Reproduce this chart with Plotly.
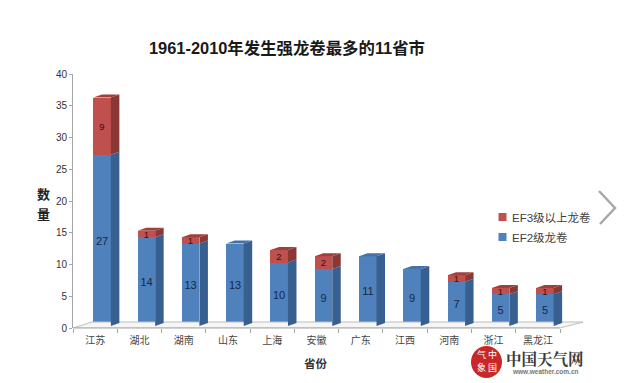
import plotly.graph_objects as go

provinces = ["江苏", "湖北", "湖南", "山东", "上海", "安徽", "广东", "江西", "河南", "浙江", "黑龙江"]
ef2 = [27, 14, 13, 13, 10, 9, 11, 9, 7, 5, 5]
ef3 = [9, 1, 1, 0, 2, 2, 0, 0, 1, 1, 1]
y_ticks = [0, 5, 10, 15, 20, 25, 30, 35, 40]

PX_X = 44.3
PX_Y = 6.35
OFFSET = 7.0 / PX_X
WIDTH = 17.5 / PX_X
DX = 8.5 / PX_X
DY = 3.0 / PX_Y
LIFT = 0.3
FONT = "Liberation Sans, Noto Sans CJK SC, sans-serif"
CJK = "Noto Sans CJK SC, sans-serif"
PAGE = 8  # the page's own margin around the figure

BLUE, BLUE_SIDE, BLUE_TOP = "#4f81bd", "#375f8f", "#4472a8"
RED, RED_SIDE, RED_TOP = "#c0504d", "#8a3836", "#a03f3c"


def side_face(i, lo, hi):
    r = i + OFFSET + WIDTH / 2
    return [r, r + DX, r + DX, r, r, None], [lo, lo + DY, hi + DY, hi, lo, None]


def top_face(i, h):
    l = i + OFFSET - WIDTH / 2
    r = l + WIDTH
    return [l, l + DX, r + DX, r, l, None], [h, h + DY, h + DY, h, h, None]


def collect(faces):
    xs, ys = [], []
    for fx, fy in faces:
        xs += fx
        ys += fy
    return xs, ys


def poly(xy, color):
    return go.Scatter(x=xy[0], y=xy[1], mode="lines", fill="toself", fillcolor=color,
                      line=dict(width=0, color=color), showlegend=False, hoverinfo="skip")


def px(x, y):
    return (x - 73) / 510, (328 - y) / 254


fig = go.Figure()
idx = list(range(len(provinces)))
xc = [i + OFFSET for i in idx]

# floor
fx0, fx1 = -0.5, len(provinces) - 0.5
fig.add_trace(go.Scatter(
    x=[fx0, fx0 + 19 / PX_X, fx1 + 23 / PX_X, fx1, fx0],
    y=[0, 6 / PX_Y, 6 / PX_Y, 0, 0],
    mode="lines", fill="toself", fillcolor="#f6f6f6",
    line=dict(color="#bdbdbd", width=1), showlegend=False, hoverinfo="skip"))

fig.add_trace(go.Bar(x=xc, y=ef2, base=[LIFT] * len(ef2), width=WIDTH, name="EF2级龙卷",
                     marker=dict(color=BLUE, line=dict(width=0)),
                     text=[str(v) for v in ef2], textposition="inside", insidetextanchor="middle",
                     textangle=0, constraintext="none", showlegend=False,
                     textfont=dict(color="#14284b", size=11, family=FONT)))
fig.add_trace(go.Bar(x=xc, y=ef3, base=[LIFT + v for v in ef2], width=WIDTH, name="EF3级以上龙卷",
                     marker=dict(color=RED, line=dict(width=0)),
                     text=[str(v) if v else "" for v in ef3], textposition="inside",
                     insidetextanchor="middle", textangle=0, constraintext="none", showlegend=False,
                     textfont=dict(color="#3a0f0f", size=9.5, family=FONT)))

fig.add_trace(poly(collect([side_face(i, LIFT, LIFT + ef2[i]) for i in idx]), BLUE_SIDE))
fig.add_trace(poly(collect([side_face(i, LIFT + ef2[i], LIFT + ef2[i] + ef3[i]) for i in idx if ef3[i]]), RED_SIDE))
fig.add_trace(poly(collect([top_face(i, LIFT + ef2[i]) for i in idx if not ef3[i]]), BLUE_TOP))
fig.add_trace(poly(collect([top_face(i, LIFT + ef2[i] + ef3[i]) for i in idx if ef3[i]]), RED_TOP))

texts = [
    dict(text="<b>数</b>", x=43, y=193, font=dict(size=13, color="#222", family=CJK)),
    dict(text="<b>量</b>", x=43, y=213, font=dict(size=13, color="#222", family=CJK)),
    dict(text="<b>省份</b>", x=316, y=363, font=dict(size=11.5, color="#333", family=CJK)),
    dict(text="<b>中国天气网</b>", x=545, y=358, font=dict(size=15.5, color="#3a3a3a", family="Noto Serif CJK SC, Noto Sans CJK SC, serif")),
    dict(text="<b>www.weather.com.cn</b>", x=545, y=371, font=dict(size=6.5, color="#777", family=FONT)),
    dict(text="中", x=492, y=354, font=dict(size=9, color="white", family=CJK)),
    dict(text="国", x=492, y=367, font=dict(size=9, color="white", family=CJK)),
    dict(text="气", x=481, y=354, font=dict(size=9, color="white", family=CJK)),
    dict(text="象", x=481, y=367, font=dict(size=9, color="white", family=CJK)),
]
ann = []
for a in texts:
    fx, fy = px(a["x"], a["y"])
    ann.append(dict(text=a["text"], xref="paper", yref="paper", x=fx, y=fy,
                    xanchor="center", yanchor="middle", showarrow=False,
                    font=a["font"], align="center"))

# legend key
legend_items = [("EF3级以上龙卷", RED, 217), ("EF2级龙卷", BLUE, 237)]
shapes = []
for label, color, ly in legend_items:
    lx0, ly0 = px(498.5, ly - 4)
    lx1, ly1 = px(506.5, ly + 4)
    shapes.append(dict(type="rect", xref="paper", yref="paper", x0=lx0, y0=ly0, x1=lx1, y1=ly1,
                       fillcolor=color, line=dict(width=0)))
    tx, ty = px(510, ly)
    ann.append(dict(text=label, xref="paper", yref="paper", x=tx, y=ty, xanchor="left",
                    yanchor="middle", showarrow=False, font=dict(size=11.5, color="#404040", family=FONT)))

x0, y0 = px(471, 346)
x1, y1 = px(502, 378)
a0 = px(599, 191)
a1 = px(615, 208)
a2 = px(600, 224)
axis_end = px(560, 328)
shapes += [
    dict(type="circle", xref="paper", yref="paper", x0=x0, y0=y0, x1=x1, y1=y1,
         fillcolor="#c8282a", line=dict(width=0), layer="above"),
    dict(type="path", xref="paper", yref="paper",
         path=f"M {a0[0]} {a0[1]} L {a1[0]} {a1[1]} L {a2[0]} {a2[1]}",
         line=dict(color="#a8a8a8", width=2.5)),
    dict(type="line", xref="paper", yref="paper", x0=0, y0=0, x1=axis_end[0], y1=0,
         line=dict(color="#a6a6a6", width=1)),
]

fig.update_layout(
    width=641 - PAGE, height=383 - PAGE, autosize=False,
    paper_bgcolor="white", plot_bgcolor="white",
    margin=dict(l=73 - PAGE, r=58, t=74 - PAGE, b=55),
    barmode="overlay", bargap=0, showlegend=False,
    title=dict(text="<b>1961-2010年发生强龙卷最多的11省市</b>", x=(287 - PAGE) / (641 - PAGE), xanchor="center",
               y=1 - (48 - PAGE) / (383 - PAGE), yanchor="middle", font=dict(size=16.4, color="#1a1a1a", family=FONT)),
    xaxis=dict(range=[-0.5, len(provinces) - 0.5 + 23 / PX_X], tickmode="array",
               tickvals=idx, ticktext=provinces, ticks="", showline=False, showgrid=False,
               zeroline=False, ticklabelstandoff=5, tickfont=dict(size=10, color="#444", family=CJK),
               minor=dict(tick0=-0.5, dtick=1, ticks="outside", ticklen=4, tickcolor="#a6a6a6", showgrid=False)),
    yaxis=dict(range=[0, 40], tickmode="array", tickvals=y_ticks, ticks="outside", ticklen=3,
               tickcolor="#a6a6a6", showline=True, linecolor="#a6a6a6", linewidth=1,
               showgrid=False, zeroline=False, tickfont=dict(size=10, color="#333", family=FONT)),
    annotations=ann,
    shapes=shapes,
)

fig.write_html("out.html", config=dict(displayModeBar=False))
